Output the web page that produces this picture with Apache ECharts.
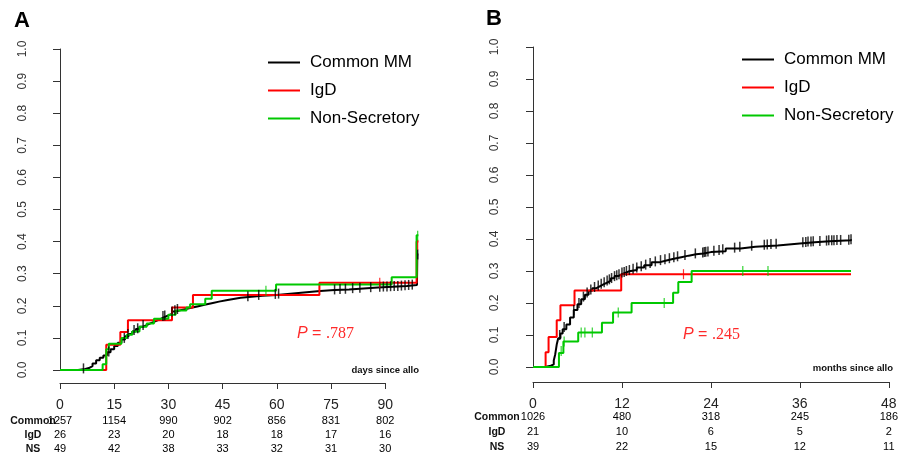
<!DOCTYPE html>
<html>
<head>
<meta charset="utf-8">
<title>Cumulative incidence</title>
<script src="https://cdn.jsdelivr.net/npm/echarts@6/dist/echarts.min.js"></script>
<style>
  html, body { margin: 0; padding: 0; background: #fff; }
  #chart { width: 901px; height: 456px; }
</style>
</head>
<body>
<div id="chart"></div>
<script>
// ---- panel A: days since allo ----
const aCommon = [[0,0],[5,0.003],[7,0.006],[8,0.012],[9,0.02],[10,0.03],[11,0.038],[12,0.045],[13,0.055],[14,0.065],[15,0.075],[16,0.085],[17,0.095],[18,0.105],[19,0.112],[20,0.12],[21,0.128],[22,0.135],[23,0.14],[24,0.145],[25,0.15],[26,0.155],[27,0.16],[28,0.165],[29,0.17],[30,0.175],[31,0.182],[32,0.188],[34,0.193],[36,0.198],[38,0.203],[40,0.208],[42,0.213],[44,0.217],[46,0.221],[48,0.225],[50,0.228],[53,0.231],[56,0.234],[60,0.237],[63,0.24],[66,0.243],[69,0.246],[72,0.249],[76,0.251],[80,0.254],[84,0.257],[88,0.259],[92,0.262],[96,0.265],[98.8,0.268],[98.9,0.36],[99.2,0.36]]
const aIgD = [[0,0],[12.8,0.079],[16.7,0.118],[18.8,0.155],[31,0.195],[36.8,0.234],[71.8,0.272],[98.7,0.40],[99.2,0.40]]
const aNS = [[0,0],[11.8,0.018],[12.8,0.065],[13.5,0.082],[17,0.10],[18.5,0.11],[20,0.12],[22,0.135],[24,0.145],[26,0.16],[30,0.172],[32,0.185],[35,0.195],[36,0.205],[40.2,0.222],[42,0.247],[59.8,0.266],[91.8,0.289],[98.7,0.42],[99.2,0.42]]
const aCommonCens = [[6.5,0.005],[13.5,0.058],[17.8,0.10],[18.8,0.112],[20.5,0.125],[21.5,0.13],[23,0.14],[28.5,0.168],[29,0.17],[31,0.182],[31.8,0.186],[32.5,0.19],[52,0.23],[55,0.234],[59.6,0.237],[60.5,0.238],[76,0.251],[77.5,0.252],[79,0.253],[81,0.255],[83,0.256],[86,0.258],[88.5,0.259],[89.5,0.26],[90.5,0.26],[91.5,0.261],[92.5,0.262],[93.5,0.262],[94.5,0.263],[95.5,0.264],[96.5,0.265],[97.5,0.266],[99,0.36]]
const aIgDCens = [[88.5,0.272],[99,0.39]]
const aNSCens = [[57,0.247],[99,0.418]]
const aTicks = [0, 15, 30, 45, 60, 75, 90]
const aRiskCommon = [1257, 1154, 990, 902, 856, 831, 802]
const aRiskIgD = [26, 23, 20, 18, 18, 17, 16]
const aRiskNS = [49, 42, 38, 33, 32, 31, 30]

// ---- panel B: months since allo ----
const bCommon = [[0,0],[1.6,0.004],[2.4,0.008],[2.8,0.02],[3.0,0.04],[3.2,0.07],[3.4,0.09],[3.7,0.105],[4.0,0.118],[4.5,0.133],[5.0,0.155],[5.5,0.178],[6.0,0.196],[6.5,0.212],[7.0,0.226],[7.5,0.238],[8.0,0.246],[8.5,0.252],[9.0,0.258],[9.5,0.264],[10,0.27],[10.5,0.277],[11,0.284],[11.5,0.29],[12,0.295],[12.5,0.299],[13,0.303],[14,0.311],[15,0.318],[16,0.327],[17,0.333],[18,0.338],[19,0.343],[20,0.348],[21,0.352],[22,0.355],[23,0.359],[24,0.362],[26,0.37],[28,0.376],[30,0.38],[33,0.386],[36,0.39],[38,0.393],[40,0.396],[42.9,0.399]]
const bIgD = [[0,0],[1.7,0.046],[2.1,0.094],[3.2,0.146],[3.7,0.193],[5.6,0.239],[11.9,0.29],[42.9,0.29]]
const bNS = [[0,0],[3.5,0.044],[4.1,0.08],[6.1,0.108],[9.3,0.138],[10.8,0.17],[13.3,0.20],[18.9,0.232],[19.6,0.266],[21.4,0.30],[42.9,0.30]]
const bCommonCens = [[3.6,0.10],[4.2,0.125],[5.5,0.178],[6.2,0.2],[6.8,0.22],[7.3,0.233],[7.8,0.242],[8.3,0.25],[8.8,0.255],[9.2,0.26],[9.6,0.265],[10,0.27],[10.3,0.274],[10.6,0.278],[11,0.284],[11.3,0.287],[11.6,0.29],[12,0.295],[12.3,0.297],[12.6,0.3],[13,0.303],[13.5,0.307],[14,0.311],[14.6,0.315],[15.2,0.32],[15.8,0.325],[16.5,0.33],[17.2,0.334],[17.8,0.337],[18.4,0.34],[19,0.343],[19.5,0.346],[20.5,0.35],[21.9,0.355],[22.9,0.358],[23.1,0.359],[23.3,0.36],[23.6,0.361],[24.4,0.363],[25.1,0.366],[25.6,0.368],[27.2,0.373],[27.9,0.376],[29.5,0.379],[31.2,0.382],[31.6,0.383],[32.1,0.384],[32.8,0.385],[36.4,0.39],[36.8,0.391],[37.1,0.392],[37.5,0.392],[37.8,0.393],[38.7,0.394],[39.6,0.395],[39.9,0.396],[40.3,0.396],[40.6,0.396],[41,0.397],[41.5,0.397],[42.6,0.398],[42.9,0.399]]
const bIgDCens = [[20.3,0.29]]
const bNSCens = [[3.8,0.05],[4.2,0.08],[6.5,0.108],[7.0,0.108],[8.0,0.108],[11.5,0.17],[17.7,0.20],[28.3,0.30],[31.7,0.30]]
const bTicks = [0, 12, 24, 36, 48]
const bRiskCommon = [1026, 480, 318, 245, 186]
const bRiskIgD = [21, 10, 6, 5, 2]
const bRiskNS = [39, 22, 15, 12, 11]

const groups = ['Common MM', 'IgD', 'Non-Secretory']
const colors = ['#000000', '#ff0000', '#00c800']
const font = 'Liberation Sans, Arial, sans-serif'

const chart = echarts.init(document.getElementById('chart'), null, { renderer: 'canvas' })

function yAxisShown(gridIndex) {
  return {
    gridIndex, type: 'value', min: 0, max: 1, interval: 0.1, offset: 13,
    axisLine: { show: true, lineStyle: { color: '#333', width: 1 } },
    axisTick: { show: true, length: 7, lineStyle: { color: '#333' } },
    splitLine: { show: false },
    axisLabel: { rotate: 90, margin: 18, fontSize: 12, color: '#333', fontFamily: font,
      formatter: v => v.toFixed(1) }
  }
}

function xAxisShown(gridIndex, max, interval, offset) {
  return {
    gridIndex, type: 'value', min: 0, max, interval, position: 'bottom', offset,
    axisLine: { show: true, onZero: false, lineStyle: { color: '#333', width: 1 } },
    axisTick: { show: true, length: 6, lineStyle: { color: '#333' } },
    splitLine: { show: false },
    axisLabel: { margin: 22, verticalAlign: 'middle', fontSize: 14, color: '#222', fontFamily: font }
  }
}

function riskAxis(gridIndex, max, interval, offset, values) {
  return {
    gridIndex, type: 'value', min: 0, max, interval, position: 'bottom', offset,
    axisLine: { show: false }, axisTick: { show: false }, splitLine: { show: false },
    axisLabel: { margin: 0, verticalAlign: 'middle', fontSize: 11, color: '#000', fontFamily: font,
      showMinLabel: true, showMaxLabel: true,
      formatter: v => { const s = values[Math.round(v / interval)]; return s === undefined ? '' : String(s) } }
  }
}

function curve(name, data, color, xi, yi) {
  return { name, type: 'line', step: 'end', data, xAxisIndex: xi, yAxisIndex: yi,
    showSymbol: false, symbol: 'none', silent: true, z: 2,
    itemStyle: { color }, lineStyle: { color, width: 2 } }
}

function censor(name, data, color, xi, yi, w) {
  return { name, type: 'scatter', data, xAxisIndex: xi, yAxisIndex: yi,
    symbol: 'rect', symbolSize: [w, 10], silent: true, z: 3,
    itemStyle: { color } }
}

function legendAt(left, top) {
  return {
    data: groups, orient: 'vertical', left, top, selectedMode: false,
    icon: 'rect', itemWidth: 32, itemHeight: 2, itemGap: 11,
    textStyle: { fontSize: 17, color: '#000', fontFamily: font, padding: [0, 0, 0, 5] }
  }
}

function pText(x, y, val) {
  return { type: 'text', x, y, silent: true, style: {
    text: '{i|P}{n| = }{s|' + val + '}', verticalAlign: 'middle', align: 'left',
    rich: {
      i: { fontStyle: 'italic', fontSize: 16, fill: '#ff2a2a', fontFamily: font },
      n: { fontSize: 16, fill: '#ff2a2a', fontFamily: font },
      s: { fontSize: 16, fill: '#ff2a2a', fontFamily: 'Liberation Serif, Times New Roman, serif' }
    } } }
}

function plainText(x, y, text, size, weight, align) {
  return { type: 'text', x, y, silent: true, style: {
    text, fontSize: size, fontWeight: weight, fill: '#111', fontFamily: font,
    align, verticalAlign: 'middle' } }
}

chart.setOption({
  animation: false,
  backgroundColor: '#ffffff',
  grid: [
    { left: 60, top: 49, width: 361.3, height: 321 },
    { left: 60, top: 49, width: 325.2, height: 321 },
    { left: 533, top: 47, width: 360, height: 320 }
  ],
  xAxis: [
    { gridIndex: 0, type: 'value', min: 0, max: 100, show: false },
    xAxisShown(1, 90, 15, 13),
    riskAxis(1, 90, 15, 51, aRiskCommon),
    riskAxis(1, 90, 15, 65, aRiskIgD),
    riskAxis(1, 90, 15, 79, aRiskNS),
    xAxisShown(2, 48, 12, 15),
    riskAxis(2, 48, 12, 50, bRiskCommon),
    riskAxis(2, 48, 12, 65, bRiskIgD),
    riskAxis(2, 48, 12, 80, bRiskNS)
  ],
  yAxis: [
    yAxisShown(0),
    { gridIndex: 1, type: 'value', min: 0, max: 1, show: false },
    Object.assign(yAxisShown(2), { offset: 14 })
  ],
  legend: [legendAt(263, 49), legendAt(737, 46)],
  series: [
    curve('Common MM', aCommon, colors[0], 0, 0),
    curve('IgD', aIgD, colors[1], 0, 0),
    curve('Non-Secretory', aNS, colors[2], 0, 0),
    censor('Common MM censored', aCommonCens, colors[0], 0, 0, 1.5),
    censor('IgD censored', aIgDCens, colors[1], 0, 0, 1.2),
    censor('Non-Secretory censored', aNSCens, colors[2], 0, 0, 1.2),
    curve('Common MM', bCommon, colors[0], 5, 2),
    curve('IgD', bIgD, colors[1], 5, 2),
    curve('Non-Secretory', bNS, colors[2], 5, 2),
    censor('Common MM censored', bCommonCens, colors[0], 5, 2, 1.5),
    censor('IgD censored', bIgDCens, colors[1], 5, 2, 1.2),
    censor('Non-Secretory censored', bNSCens, colors[2], 5, 2, 1.2)
  ],
  graphic: [
    { type: 'text', x: 14, y: 10, silent: true, style: { text: 'A', fontSize: 22, fontWeight: 'bold', fill: '#000', fontFamily: font } },
    { type: 'text', x: 486, y: 8, silent: true, style: { text: 'B', fontSize: 22, fontWeight: 'bold', fill: '#000', fontFamily: font } },
    pText(297, 334, '.787'),
    pText(683, 335, '.245'),
    plainText(419, 370, 'days since allo', 9.5, 'bold', 'right'),
    plainText(893, 368, 'months since allo', 9.5, 'bold', 'right'),
    plainText(33, 421, 'Common', 10.5, 'bold', 'center'),
    plainText(33, 435, 'IgD', 10.5, 'bold', 'center'),
    plainText(33, 449, 'NS', 10.5, 'bold', 'center'),
    plainText(497, 417, 'Common', 10.5, 'bold', 'center'),
    plainText(497, 432, 'IgD', 10.5, 'bold', 'center'),
    plainText(497, 447, 'NS', 10.5, 'bold', 'center')
  ]
})
</script>
</body>
</html>
